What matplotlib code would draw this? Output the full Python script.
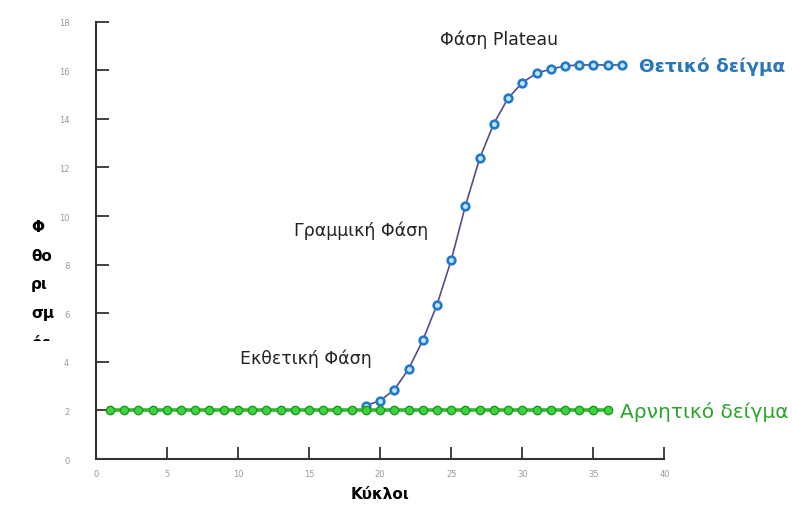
import matplotlib
matplotlib.use('Agg')
import matplotlib.pyplot as plt
from matplotlib.transforms import Bbox, TransformedBbox

# negative sample: flat baseline
neg_cycles = list(range(1, 37))
neg_values = [2.0] * len(neg_cycles)

# positive sample: sigmoid amplification curve
pos_cycles = list(range(19, 38))
pos_values = [2.2, 2.4, 2.85, 3.7, 4.88, 6.35, 8.18, 10.42, 12.37, 13.81,
              14.85, 15.49, 15.88, 16.05, 16.18, 16.22, 16.22, 16.22, 16.22]

x_ticks = [0, 5, 10, 15, 20, 25, 30, 35, 40]
y_ticks = [0, 2, 4, 6, 8, 10, 12, 14, 16, 18]

ylabel_lines = ['Φ', 'θο', 'ρι', 'σμ', 'ός']

fig = plt.figure(figsize=(7.92, 5.06), dpi=100)
ax = fig.add_axes([0.1208, 0.0909, 0.7182, 0.8642])

ax.plot(pos_cycles, pos_values, color='#5b4a8c', linewidth=1.2, zorder=2)
ax.plot(pos_cycles, pos_values, linestyle='none', marker='o', markersize=5.5,
        markerfacecolor='#bfe3f8', markeredgecolor='#1f7acc', markeredgewidth=1.9,
        zorder=3)
ax.plot(neg_cycles, neg_values, color='#2db82d', linewidth=2.6, marker='o',
        markersize=6, markerfacecolor='#3fd23f', markeredgecolor='#1f9a1f',
        markeredgewidth=1.0, zorder=4)

ax.set_xlim(0, 40)
ax.set_ylim(0, 18)
ax.set_xticks(x_ticks)
ax.set_yticks(y_ticks)
ax.tick_params(direction='in', length=9, width=1.3, color='#333333',
               labelsize=6, labelcolor='#999999')
ax.tick_params(axis='y', pad=19)
ax.tick_params(axis='x', pad=7)
for side in ['top', 'right']:
    ax.spines[side].set_visible(False)
for side in ['left', 'bottom']:
    ax.spines[side].set_color('#333333')
    ax.spines[side].set_linewidth(1.5)

# phase annotations
ax.text(28.4, 17.3, 'Φάση Plateau', fontsize=12.5, color='#222222', ha='center', va='center')
ax.text(18.7, 9.45, 'Γραμμική Φάση', fontsize=12.5, color='#222222', ha='center', va='center')
ax.text(14.8, 4.15, 'Εκθετική Φάση', fontsize=12.5, color='#222222', ha='center', va='center')

# series labels
ax.text(38.2, 16.2, 'Θετικό δείγμα', fontsize=13.3, color='#2a76bb', fontweight='bold',
        ha='left', va='center', clip_on=False)
ax.text(36.9, 1.98, 'Αρνητικό δείγμα', fontsize=14.5, color='#2aa52a',
        ha='left', va='center', clip_on=False)

ax.set_xlabel('Κύκλοι', fontsize=11, fontweight='bold', labelpad=6)

# wrapped, partly hidden y label
line_y = [228, 257, 285, 314, 343]
for txt, yp in zip(ylabel_lines, line_y):
    t = fig.text(31 / 792, 1 - yp / 506, txt, fontsize=11, fontweight='bold',
                 ha='left', va='center')
    if txt == ylabel_lines[-1]:
        box = Bbox.from_extents(0, 1 - 342 / 506, 1, 1)
        t.set_clip_box(TransformedBbox(box, fig.transFigure))

fig.savefig('out.png', dpi=100, facecolor='white')
